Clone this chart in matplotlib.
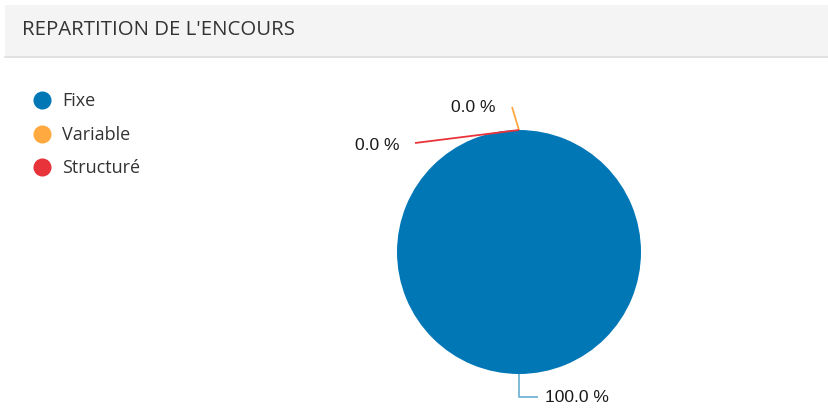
import numpy as np
import matplotlib.pyplot as plt
from matplotlib.patches import Rectangle

# donnees du graphique
categories = ["Fixe", "Variable", "Structuré"]
values = [100.0, 0.0, 0.0]
colors = ["#0277b6", "#ffa940", "#e8333b"]
title = "REPARTITION DE L'ENCOURS"

W, H = 829, 410
fig = plt.figure(figsize=(W / 100, H / 100), dpi=100)
ax = fig.add_axes([0, 0, 1, 1])


def y(v):
    # coordonnee image -> coordonnee matplotlib
    return H - v


# bandeau du titre
ax.add_patch(Rectangle((5, y(57)), W - 5, 51, facecolor="#f4f4f4", edgecolor="none"))
ax.plot([5, W], [y(57.5), y(57.5)], color="#dcdcdc", lw=1.2)
ax.text(22, y(30), title, fontsize=14.7, color="#333333", family="Open Sans",
        va="center", ha="left")

# camembert
cx, cy, r = 519, y(253), 122
wedges, _ = ax.pie(values, colors=colors, startangle=90, counterclock=False,
                   center=(cx, cy), radius=r, wedgeprops=dict(linewidth=0))

# etiquettes: (fin du trait en px image, position du texte, alignement, style du trait)
label_layout = [
    {"path": [(0, 23), (19, 23)], "text": (545, 398), "ha": "left", "alpha": 0.55},
    {"path": [(-7, -23)], "text": (496, 108), "ha": "right", "alpha": 1.0},
    {"path": [(-104, 13)], "text": (400, 145), "ha": "right", "alpha": 1.0},
]

total = sum(values)
start = 90.0
for val, col, lay in zip(values, colors, label_layout):
    sweep = 360.0 * val / total
    mid = np.deg2rad(start - sweep / 2)
    start -= sweep
    px = cx + r * np.cos(mid)
    py = cy + r * np.sin(mid)
    xs = [px] + [px + dx for dx, dy in lay["path"]]
    ys = [py] + [py - dy for dx, dy in lay["path"]]
    ax.plot(xs, ys, color=col, lw=1.3, alpha=lay["alpha"], solid_capstyle="butt")
    ax.text(lay["text"][0], y(lay["text"][1]), "%.1f %%" % val, fontsize=12.6,
            color="#1a1a1a", family="Liberation Sans", ha=lay["ha"], va="center")

# legende
for i, (cat, col) in enumerate(zip(categories, colors)):
    ly = y(101 + 33.5 * i)
    ax.plot(42, ly, "o", markersize=13, color=col, markeredgewidth=0)
    ax.text(62, ly, cat, fontsize=13, color="#333333", family="Open Sans",
            va="center", ha="left")

ax.set_xlim(0, W)
ax.set_ylim(0, H)
ax.set_aspect("auto")
ax.axis("off")

plt.savefig("out.png", dpi=100)
